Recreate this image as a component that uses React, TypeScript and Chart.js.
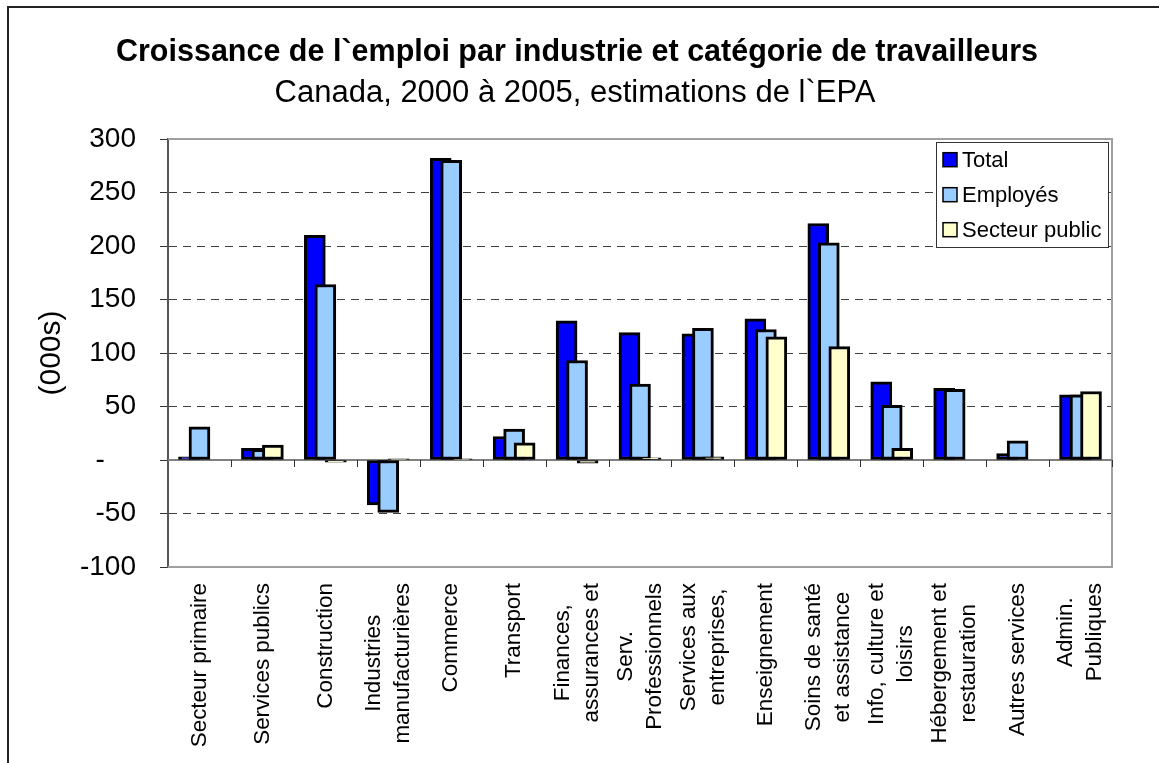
import React, { useEffect, useRef } from 'react';
import { Chart, registerables } from 'chart.js';

Chart.register(...registerables);

// ---------- DATA ----------
const categories: string[][] = [
  ['Secteur primaire'],
  ['Services publics'],
  ['Construction'],
  ['Industries', 'manufacturières'],
  ['Commerce'],
  ['Transport'],
  ['Finances,', 'assurances et'],
  ['Serv.', 'Professionnels'],
  ['Services aux', 'entreprises,'],
  ['Enseignement'],
  ['Soins de santé', 'et assistance'],
  ['Info, culture et', 'loisirs'],
  ['Hébergement et', 'restauration'],
  ['Autres services'],
  ['Admin.', 'Publiques'],
];

const seriesNames = ['Total', 'Employés', 'Secteur public'];
const totalValues = [3, 11, 210, -42, 282, 22, 130, 119, 118, 132, 221, 73, 67, 6, 61];
const employesValues = [31, 10, 164, -49, 280, 29, 93, 71, 123, 122, 203, 51, 66, 18, 61];
const secteurPublicValues = [null, 14, -2, 1, 1, 16, -3, 2, 3, 115, 106, 11, null, null, 64];
const seriesColors = ['#0000FF', '#99CCFF', '#FFFFCC'];

const yTickValues = [-100, -50, 0, 50, 100, 150, 200, 250, 300];
const yTickLabels = ['-100', '-50', '-    ', '50', '100', '150', '200', '250', '300'];

const titleText = 'Croissance de l`emploi par industrie et catégorie de travailleurs';
const subtitleText = 'Canada, 2000 à 2005, estimations de l`EPA';
const yAxisTitle = '(000s)';

const FONT = "'Liberation Sans', Arial, Helvetica, sans-serif";

// ---------- PLUGINS ----------
const drawOrderPlugin = {
  id: 'drawOrder',
  beforeDatasetDraw() {
    return false;
  },
  afterDatasetsDraw(chart: any) {
    const { ctx, chartArea: a } = chart;
    ctx.save();
    ctx.beginPath();
    ctx.rect(a.left, a.top, a.right - a.left, a.bottom - a.top);
    ctx.clip();
    chart.data.datasets.forEach((_: any, i: number) => {
      if (chart.isDatasetVisible(i)) chart.getDatasetMeta(i).controller.draw();
    });
    ctx.restore();
  },
};

const framePlugin = {
  id: 'frame',
  beforeDatasetsDraw(chart: any) {
    const { ctx, chartArea: a, scales } = chart;
    const xs = scales.x;
    const y0 = scales.y.getPixelForValue(0);
    ctx.save();
    // plot border (top, right, bottom)
    ctx.strokeStyle = '#a0a0a0';
    ctx.lineWidth = 2;
    ctx.beginPath();
    ctx.moveTo(a.left, a.top);
    ctx.lineTo(a.right, a.top);
    ctx.lineTo(a.right, a.bottom);
    ctx.lineTo(a.left, a.bottom);
    ctx.stroke();
    // zero line
    ctx.strokeStyle = '#808080';
    ctx.beginPath();
    ctx.moveTo(a.left, y0);
    ctx.lineTo(a.right, y0);
    ctx.stroke();
    // category boundary ticks
    const n = chart.data.labels.length;
    const half = (xs.getPixelForValue(1) - xs.getPixelForValue(0)) / 2;
    ctx.strokeStyle = '#333';
    ctx.lineWidth = 1;
    for (let i = 0; i < n; i++) {
      const px = Math.round(xs.getPixelForValue(i) + half) + 0.5;
      ctx.beginPath();
      ctx.moveTo(px, y0);
      ctx.lineTo(px, y0 + 7);
      ctx.stroke();
    }
    ctx.restore();
  },
  afterDraw(chart: any) {
    const { ctx, chartArea: a, scales } = chart;
    const xs = scales.x;
    ctx.save();
    ctx.fillStyle = '#000';

    // titles
    ctx.textAlign = 'center';
    ctx.textBaseline = 'alphabetic';
    ctx.font = `bold 30.5px ${FONT}`;
    ctx.fillText(titleText, 577, 61);
    ctx.font = `31px ${FONT}`;
    ctx.fillText(subtitleText, 575, 102);

    // y axis title
    ctx.save();
    ctx.translate(52, (a.top + a.bottom) / 2);
    ctx.rotate(-Math.PI / 2);
    ctx.textAlign = 'center';
    ctx.textBaseline = 'middle';
    ctx.font = `30px ${FONT}`;
    ctx.fillText(yAxisTitle, 0, 0);
    ctx.restore();

    // x category labels (rotated, multi-line, centred block)
    ctx.font = `22.4px ${FONT}`;
    const lineH = 29;
    const topY = 583;
    (chart.data.labels as string[][]).forEach((lines, i) => {
      const cx = xs.getPixelForValue(i);
      const maxW = Math.max(...lines.map((l) => ctx.measureText(l).width));
      lines.forEach((line, j) => {
        const lx = cx + (j - (lines.length - 1) / 2) * lineH;
        ctx.save();
        ctx.translate(lx, topY + maxW / 2);
        ctx.rotate(-Math.PI / 2);
        ctx.textAlign = 'center';
        ctx.textBaseline = 'middle';
        ctx.fillText(line, 0, 0);
        ctx.restore();
      });
    });

    // legend
    const lx0 = 936, ly0 = 142, lw = 172, lh = 105;
    ctx.fillStyle = '#fff';
    ctx.fillRect(lx0, ly0, lw, lh);
    ctx.strokeStyle = '#333';
    ctx.lineWidth = 1;
    ctx.strokeRect(lx0 + 0.5, ly0 + 0.5, lw, lh);
    ctx.font = `22px ${FONT}`;
    ctx.textAlign = 'left';
    ctx.textBaseline = 'alphabetic';
    chart.data.datasets.forEach((ds: any, i: number) => {
      const cy = 159.7 + i * 35;
      ctx.fillStyle = ds.backgroundColor;
      ctx.fillRect(943, cy - 7, 14, 14);
      ctx.strokeStyle = '#000';
      ctx.lineWidth = 1.5;
      ctx.strokeRect(943, cy - 7, 14, 14);
      ctx.fillStyle = '#000';
      ctx.fillText(ds.label, 962, cy + 7.7);
    });
    ctx.restore();
  },
};

// ---------- COMPONENT ----------
export default function App() {
  const canvasRef = useRef<HTMLCanvasElement | null>(null);

  useEffect(() => {
    const canvas = canvasRef.current;
    if (!canvas) return;
    const valueSets = [totalValues, employesValues, secteurPublicValues];
    const chart = new Chart(canvas, {
      type: 'bar',
      data: {
        labels: categories as any,
        datasets: seriesNames.map((name, i) => ({
          label: name,
          data: valueSets[i] as any,
          backgroundColor: seriesColors[i],
          borderColor: '#000',
          borderWidth: 3,
          borderSkipped: false,
          categoryPercentage: 0.5,
          barPercentage: 2,
        })),
      },
      options: {
        responsive: false,
        maintainAspectRatio: false,
        animation: false,
        devicePixelRatio: 1,
        layout: { padding: { top: 139, right: 47, bottom: 6, left: 0 } },
        plugins: {
          legend: { display: false },
          tooltip: { enabled: false },
          title: { display: false },
        },
        scales: {
          x: {
            afterFit: (scale: any) => {
              scale.height = 190;
            },
            ticks: { display: false },
            grid: { display: false },
            border: { display: false },
          },
          y: {
            min: -100,
            max: 300,
            afterBuildTicks: (scale: any) => {
              scale.ticks = yTickValues.map((v) => ({ value: v }));
            },
            afterFit: (scale: any) => {
              scale.width = 168;
            },
            ticks: {
              font: { family: FONT, size: 28 },
              color: '#000',
              padding: 24,
              callback: (v: any) => {
                const idx = yTickValues.indexOf(Number(v));
                return idx >= 0 ? yTickLabels[idx] : '';
              },
            },
            grid: {
              color: (c: any) =>
                c.tick && (c.tick.value === 0 || c.tick.value === 300 || c.tick.value === -100)
                  ? 'rgba(0,0,0,0)'
                  : '#404040',
              lineWidth: 1,
              drawTicks: true,
              tickLength: 8,
              tickColor: '#333',
              tickWidth: 1,
            },
            border: { display: true, color: '#555', width: 2, dash: [8, 6] },
          },
        },
      },
      plugins: [framePlugin, drawOrderPlugin],
    } as any);
    return () => chart.destroy();
  }, []);

  return (
    <>
      <div
        style={{
          position: 'fixed',
          left: 7,
          top: 6,
          width: 1200,
          height: 800,
          border: '2px solid #222',
        }}
      />
      <canvas
        ref={canvasRef}
        width={1159}
        height={763}
        style={{ position: 'fixed', left: 0, top: 0, width: 1159, height: 763 }}
      />
    </>
  );
}
